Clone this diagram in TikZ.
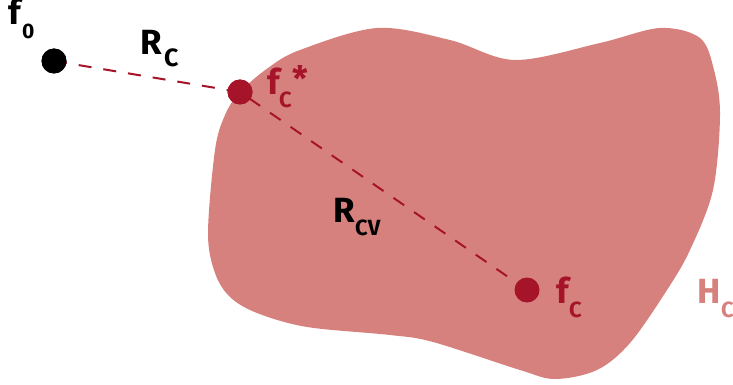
\documentclass[tikz,border=0pt]{standalone}
\usepackage{fontspec}
\setmainfont{Fira Sans}[BoldFont={Fira Sans Bold}, Numbers=Lining]
\definecolor{blob}{HTML}{D7817E}
\definecolor{dred}{HTML}{A51429}
\newcommand{\mainsz}{\fontsize{35}{37}\selectfont\bfseries}
\newcommand{\subsz}{\fontsize{22}{24}\selectfont\bfseries}
\tikzset{
  dot/.style={circle, inner sep=0pt, minimum size=25pt},
  lab/.style={anchor=base west, inner sep=0pt},
  conn/.style={dred, line width=2pt, dash pattern=on 13pt off 12pt},
}
\begin{document}
\begin{tikzpicture}[x=1pt,y=-1pt]
\useasboundingbox (0,0) rectangle (733,385);
\fill[blob] plot[smooth cycle, tension=0.55] coordinates {
 (240,92) (268,68) (300,50) (377,28) (450,40) (515,60) (600,43) (660,28)
 (700,38) (714,70) (720,115) (713,190) (690,250) (667,290) (630,343)
 (597,370) (555,379) (520,370) (433,342) (390,335) (307,327) (257,313)
 (230,297) (215,273) (208,233) (215,150) (225,115)};
\node[dot, fill=black] (f0) at (54,61) {};
\node[dot, fill=dred] (fcs) at (240,92) {};
\node[dot, fill=dred] (fc) at (527,290) {};
\draw[conn] (f0.center) -- (fcs.center) -- (fc.center);
\fill[dred] (fcs) circle (12.5pt);
\fill[black] (f0) circle (12.5pt);
\fill[dred] (fc) circle (12pt);
% labels
\node[lab] (lf0) at (8,25) {\mainsz f};
\node[lab] (lf0s) at (22,39) {\fontsize{21}{23}\selectfont\bfseries 0};
\node[lab] (lrc) at (140,55) {\mainsz R};
\node[lab] (lrcs) at (164,67) {\fontsize{25}{27}\selectfont\bfseries C};
\node[lab, text=dred] (lfcs) at (267,95) {\mainsz f};
\node[lab, text=dred] (lfcss) at (279,108) {\subsz C};
\node[lab, text=dred] (lstar) at (292,92) {\mainsz *};
\node[lab] (lrcv) at (333,222) {\mainsz R};
\node[lab] (lrcvs) at (355,235) {\subsz CV};
\node[lab, text=dred] (lfc) at (556,303) {\mainsz f};
\node[lab, text=dred] (lfcs2) at (569,317) {\subsz C};
\node[lab, text=blob] (lhc) at (697,303) {\mainsz H};
\node[lab, text=blob] (lhcs) at (721,317) {\subsz C};
\end{tikzpicture}
\end{document}
